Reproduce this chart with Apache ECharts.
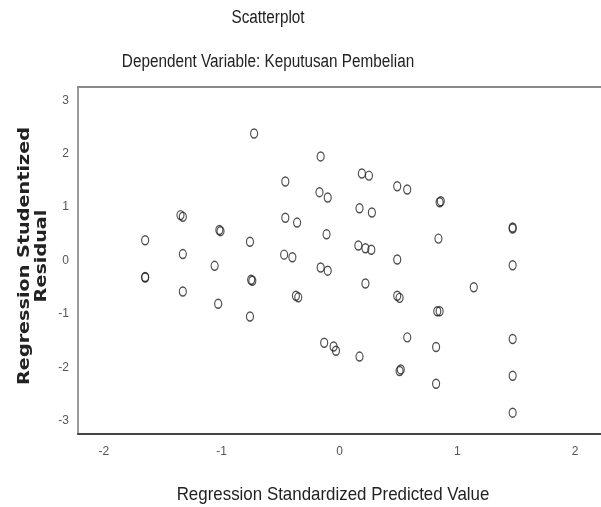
<!DOCTYPE html>
<html>
<head>
<meta charset="utf-8">
<script src="https://cdn.jsdelivr.net/npm/echarts@6/dist/echarts.min.js"></script>
<style>html,body{margin:0;padding:0;background:#fff;}#c{width:601px;height:507px;}</style>
</head>
<body>
<div id="c"></div>
<script>
const chartTitle = "Scatterplot";
const chartSubtitle = "Dependent Variable: Keputusan Pembelian";
const xAxisTitle = "Regression Standardized Predicted Value";
const yAxisTitle = "Regression Studentized\nResidual";
const xTicks = [-2, -1, 0, 1, 2];
const yTicks = [-3, -2, -1, 0, 1, 2, 3];

// Regression Standardized Predicted Value
const predicted = [
  -1.65, -1.65, -1.65,
  -1.35, -1.33, -1.33, -1.33,
  -1.02, -1.01, -1.06, -1.03,
  -0.76, -0.75, -0.74, -0.76, -0.725,
  -0.46, -0.16, -0.17, -0.10, -0.46, -0.36, -0.11, -0.47, -0.40, -0.16, -0.10,
  0.19, 0.25, 0.17, 0.275, 0.16, 0.22, 0.27, 0.22,
  0.49, 0.575, 0.49,
  -0.37, -0.35, 0.49, 0.51,
  -0.13, -0.05, -0.03, 0.17, 0.575, 0.52, 0.51,
  0.85, 0.86, 0.84, 1.47, 1.47, 1.47, 1.14,
  0.83, 0.85, 0.82, 0.82, 1.47, 1.47, 1.47
];
// Regression Studentized Residual
const residual = [
  0.38, -0.31, -0.32,
  0.85, 0.82, 0.12, -0.58,
  0.57, 0.55, -0.10, -0.81,
  0.35, -0.36, -0.38, -1.05, 2.38,
  1.48, 1.95, 1.28, 1.18, 0.80, 0.71, 0.49, 0.11, 0.06, -0.13, -0.19,
  1.63, 1.59, 0.98, 0.90, 0.28, 0.23, 0.20, -0.43,
  1.39, 1.33, 0.02,
  -0.66, -0.69, -0.66, -0.70,
  -1.54, -1.61, -1.69, -1.80, -1.44, -2.04, -2.07,
  1.09, 1.11, 0.41, 0.60, 0.62, -0.09, -0.50,
  -0.95, -0.95, -1.62, -2.31, -1.47, -2.16, -2.85
];

const points = predicted.map((x, i) => [x, residual[i]]);
const sans = "'Liberation Sans', Arial, sans-serif";

const chart = echarts.init(document.getElementById('c'), null, {renderer: 'canvas'});
chart.setOption({
  animation: false,
  backgroundColor: '#fff',
  grid: {left: 78, right: -9, top: 87, bottom: 73, containLabel: false},
  xAxis: [{
    type: 'value', min: -2.22, max: 2.22, position: 'bottom',
    axisLine: {show: true, onZero: false, lineStyle: {color: '#444', width: 2}},
    axisTick: {show: false},
    splitLine: {show: false},
    axisLabel: {customValues: xTicks, color: '#555', fontSize: 12, fontFamily: sans, margin: 12}
  }, {
    type: 'value', min: -2.22, max: 2.22, position: 'top',
    axisLine: {show: true, onZero: false, lineStyle: {color: '#8a8a8a', width: 2}},
    axisTick: {show: false}, axisLabel: {show: false}, splitLine: {show: false}
  }],
  yAxis: {
    type: 'value', min: -3.25, max: 3.25,
    axisLine: {show: true, onZero: false, lineStyle: {color: '#9a9a9a', width: 2}},
    axisTick: {show: false},
    splitLine: {show: false},
    axisLabel: {customValues: yTicks, color: '#555', fontSize: 12, fontFamily: sans, margin: 9}
  },
  graphic: [
    {type: 'text', x: 268, y: 18, scaleX: 0.85,
      style: {text: chartTitle, font: "18px " + sans, fill: '#222', align: 'center', verticalAlign: 'middle'}},
    {type: 'text', x: 268, y: 62, scaleX: 0.85,
      style: {text: chartSubtitle, font: "18px " + sans, fill: '#222', align: 'center', verticalAlign: 'middle'}},
    {type: 'text', x: 333, y: 495, scaleX: 0.89,
      style: {text: xAxisTitle, font: "19px " + sans, fill: '#222', align: 'center', verticalAlign: 'middle'}},
    {type: 'text', x: 34, y: 256, rotation: Math.PI / 2, scaleX: 1.28,
      style: {text: yAxisTitle, font: "bold 15px 'DejaVu Sans', sans-serif", fill: '#222', align: 'center', verticalAlign: 'middle', lineHeight: 17}}
  ],
  series: [{
    type: 'scatter',
    data: points,
    symbol: 'circle',
    symbolSize: [7, 9],
    itemStyle: {color: 'rgba(0,0,0,0)', borderColor: '#222', borderWidth: 1.3}
  }]
});
</script>
</body>
</html>
